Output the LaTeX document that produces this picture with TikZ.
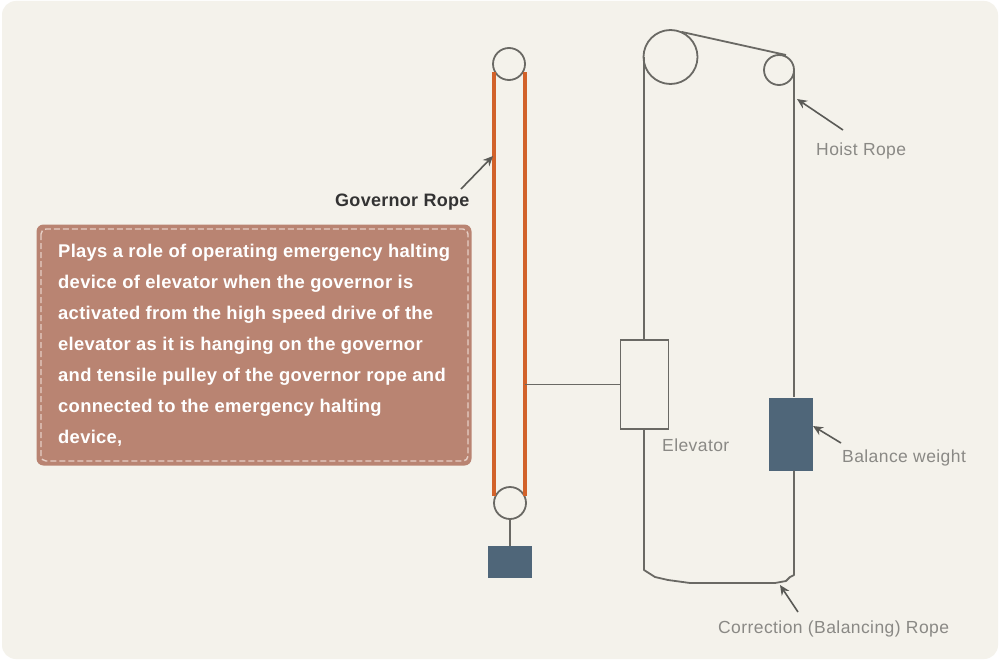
\documentclass[tikz,border=0pt]{standalone}
\usepackage{fontspec}
\setmainfont{Liberation Sans}
\usetikzlibrary{arrows.meta}
\definecolor{bgc}{HTML}{F4F2EB}
\definecolor{rope}{HTML}{6A6964}
\definecolor{orangerope}{HTML}{D2622A}
\definecolor{slate}{HTML}{4F6679}
\definecolor{boxc}{HTML}{B98472}
\definecolor{boxdash}{HTML}{E6CFC6}
\definecolor{labelc}{HTML}{8A8985}
\definecolor{arrowc}{HTML}{5A5A56}
\newfontfamily\spacedbold[LetterSpace=1.6]{Liberation Sans Bold}
\newfontfamily\spacedreg[LetterSpace=2.4]{Liberation Sans}
\tikzset{
  ropeline/.style={draw=rope,line width=1.8pt},
  pulley/.style={circle,draw=rope,line width=1.8pt,inner sep=0pt,fill=none},
  orangeline/.style={draw=orangerope,line width=3.2pt},
  weightbox/.style={rectangle,fill=slate,draw=none,inner sep=0pt},
  pointer/.style={draw=arrowc,line width=1.6pt,-{Stealth[length=10pt,width=9pt]}},
  grey label/.style={text=labelc,font=\spacedreg\fontsize{17.5}{20}\selectfont,inner sep=0pt,anchor=west},
}
\begin{document}
\begin{tikzpicture}[x=1pt,y=-1pt]
\useasboundingbox (0,0) rectangle (1000,661);
\fill[white] (0,0) rectangle (1000,661);
\fill[bgc,rounded corners=14pt] (2,1) rectangle (998,659);
% governor
\node[pulley,minimum size=32pt] (gt) at (509,64) {};
\node[pulley,minimum size=32pt] (gb) at (510,503) {};
\coordinate (olt) at (494,72);
\coordinate (olb) at (494,496);
\coordinate (ort) at (525,72);
\coordinate (orb) at (525,496);
\draw[orangeline] (olt) -- (olb);
\draw[orangeline] (ort) -- (orb);
\node[weightbox,minimum width=44pt,minimum height=32pt] (gw) at (510,562) {};
\draw[ropeline] (gb) -- (gw.north -| gb);
% hoist
\node[pulley,minimum size=54pt] (big) at (670.5,57) {};
\node[pulley,minimum size=30pt] (small) at (779,70) {};
\draw[ropeline] (682,32) -- (786,55);
\node[rectangle,draw=rope,line width=1.8pt,fill=none,minimum width=48pt,minimum height=89pt,inner sep=0pt] (elev) at (644.5,384.5) {};
\node[weightbox,minimum width=44pt,minimum height=73pt] (bw) at (791,434) {};
\coordinate (rt) at (794,70);
\coordinate (lt) at (644,57);
\draw[ropeline,line join=round] (lt) -- (elev.north -| lt);
\draw[ropeline,line join=round] (elev.south -| lt) -- (644,570) -- (655,577) -- (668,580) -- (690,583) -- (775,583) -- (786,581) -- (790,577) -- (794,575) -- (bw.south -| rt);
\draw[ropeline] (rt) -- (bw.north -| rt);
\draw[ropeline] (ort |- elev.west) -- (elev.west);
% text box
\node[rectangle,rounded corners=7pt,fill=boxc,minimum width=435pt,minimum height=241pt,inner sep=0pt] (tb) at (254,345) {};
\draw[boxdash,line width=1.4pt,dash pattern=on 6pt off 3pt,rounded corners=5pt] (41,229) rectangle (468,461);
\node[text=white,font=\spacedbold\fontsize{18.4}{31}\selectfont,align=left,anchor=north west,inner sep=0pt] (tx) at (58,244)
 {Plays a role of operating emergency halting\\
  device of elevator when the governor is\\
  activated from the high speed drive of the\\
  elevator as it is hanging on the governor\\
  and tensile pulley of the governor rope and\\
  connected to the emergency halting\\
  device,};
% labels
\node[font=\spacedbold\fontsize{18}{20}\selectfont,text=black!80,inner sep=0pt,anchor=west] (gr) at (335,202) {Governor Rope};
\node[grey label] (hr) at (816,151) {Hoist Rope};
\node[grey label] (el) at (662,445) {Elevator};
\node[grey label] (bl) at (842,458) {Balance weight};
\node[grey label] (cr) at (718,629) {Correction (Balancing) Rope};
\coordinate (a1) at (461,189);
\coordinate (a1e) at (493,156);
\coordinate (a2) at (843,130);
\coordinate (a2e) at (797,99);
\coordinate (a3) at (841,443);
\coordinate (a3e) at (813,426);
\coordinate (a4) at (798,612);
\coordinate (a4e) at (780,585);
\draw[pointer] (a1) -- (a1e);
\draw[pointer] (a2) -- (a2e);
\draw[pointer] (a3) -- (a3e);
\draw[pointer] (a4) -- (a4e);
\end{tikzpicture}
\end{document}
